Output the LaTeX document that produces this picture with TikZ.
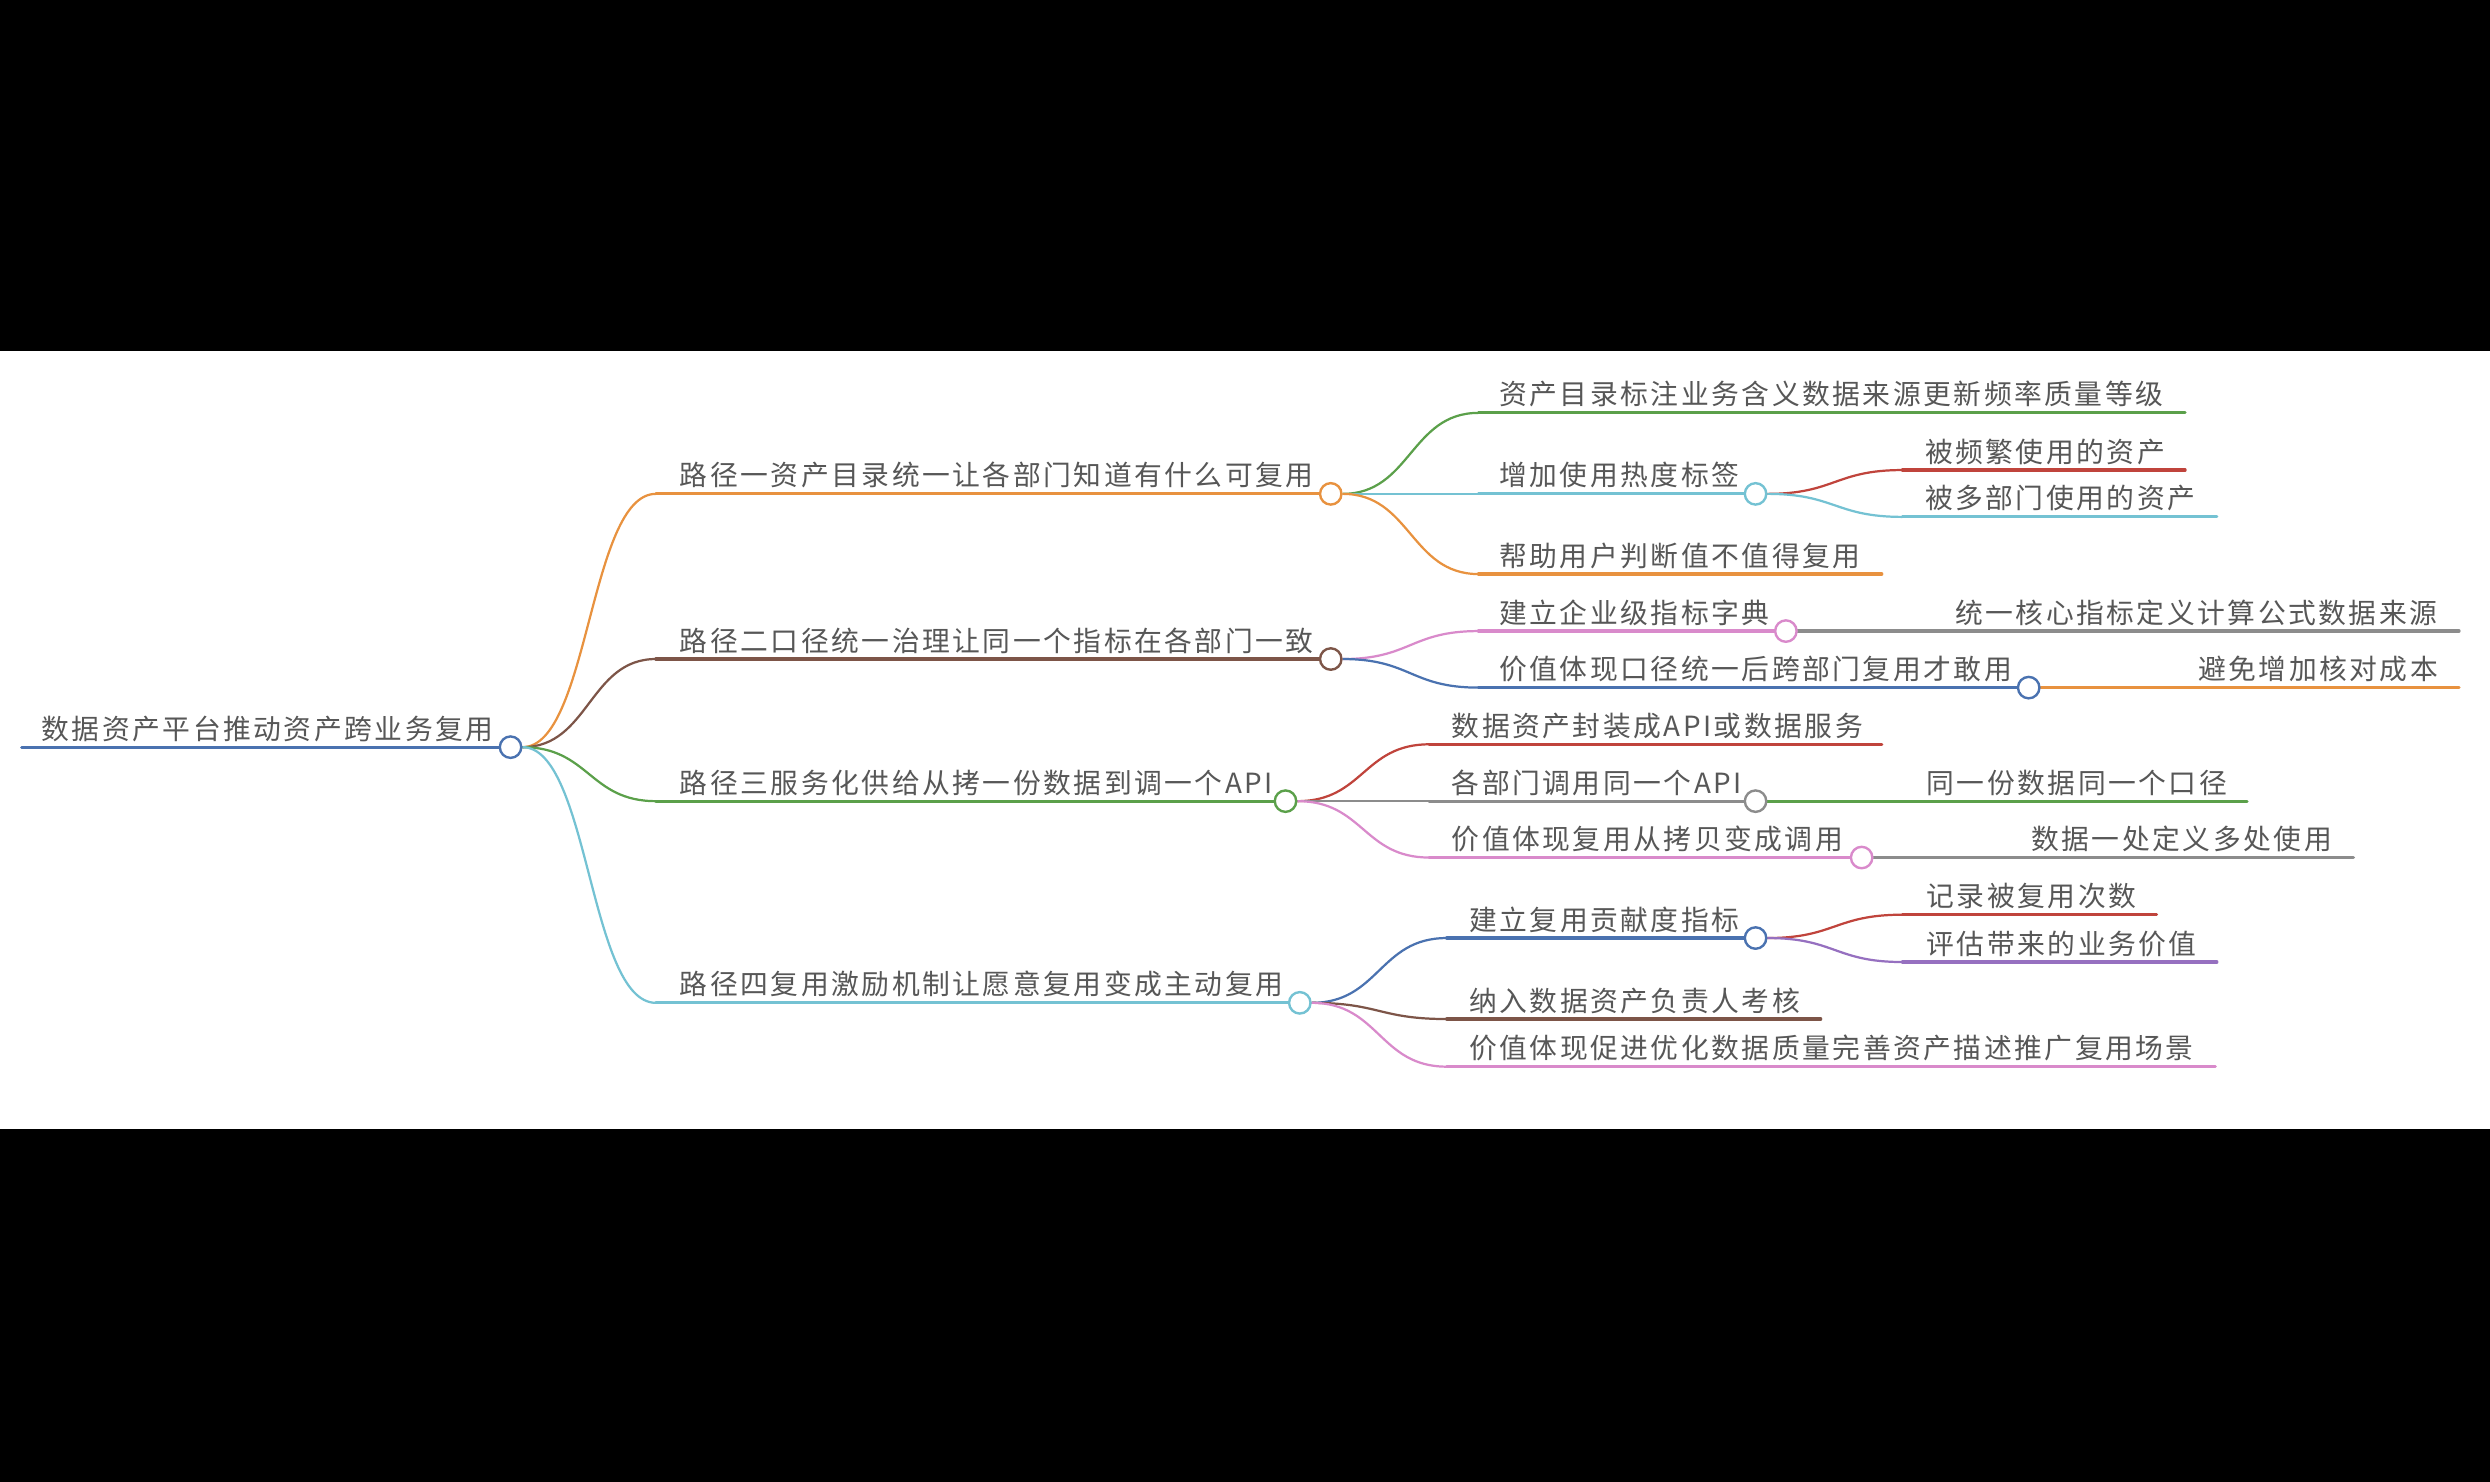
\documentclass[tikz,border=0pt]{standalone}
\usepackage{fontspec}
\newfontfamily\cjk{Noto Sans CJK SC}[LetterSpace=9]
\usetikzlibrary{calc}
\pgfdeclarelayer{back}
\pgfdeclarelayer{bg}
\pgfsetlayers{back,bg,main}
\definecolor{cblue}{HTML}{4A72B0}
\definecolor{corange}{HTML}{E8923F}
\definecolor{cbrown}{HTML}{7D5548}
\definecolor{cgreen}{HTML}{5BA04A}
\definecolor{ccyan}{HTML}{74C2D3}
\definecolor{cred}{HTML}{C0443C}
\definecolor{cpink}{HTML}{D98ACB}
\definecolor{cgray}{HTML}{8C8C8C}
\definecolor{cpurple}{HTML}{9670C0}
\definecolor{ctext}{HTML}{575757}
\newcommand\mmlink[3]{\draw[link=#3] let \p1=(#1),\p2=(#2) in (\p1) .. controls ({0.5*\x1+0.5*\x2},\y1) and ({0.5*\x1+0.5*\x2},\y2) .. (\p2);}
\begin{document}
\begin{tikzpicture}[x=1pt,y=-1pt,
  lbl/.style={anchor=base west, inner sep=0pt, font=\cjk\fontsize{17.5}{19}\selectfont, text=ctext},
  dot/.style={circle, draw=#1, fill=white, line width=1.5pt, minimum size=13.5pt, inner sep=0pt},
  uline/.style={line width=2pt, draw=#1, line cap=round},
  link/.style={line width=1.4pt, draw=#1},
]
\useasboundingbox (0,0) rectangle (1568,933);
\begin{pgfonlayer}{back}
\fill[black] (0,0) rectangle (1568,933);
\fill[white] (0,221) rectangle (1568,711);
\end{pgfonlayer}

% ---------- nodes ----------
% root
\coordinate (R-s) at (13.6,470.5);
\node[dot=cblue] (R) at (321.5,470.5) {};
\node[lbl] (Rt) at (26,465.5) {数据资产平台推动资产跨业务复用};

% level 1
\coordinate (A-s) at (413,311);
\node[dot=corange] (A) at (838,311) {};
\node[lbl] (At) at (428,306) {路径一资产目录统一让各部门知道有什么可复用};

\coordinate (B-s) at (413,415);
\node[dot=cbrown] (B) at (838,415) {};
\node[lbl] (Bt) at (428,410) {路径二口径统一治理让同一个指标在各部门一致};

\coordinate (C-s) at (413,504.5);
\node[dot=cgreen] (C) at (809.5,504.5) {};
\node[lbl] (Ct) at (428,499.5) {路径三服务化供给从拷一份数据到调一个API};

\coordinate (D-s) at (413,631.5);
\node[dot=ccyan] (D) at (818.5,631.5) {};
\node[lbl] (Dt) at (428,626.5) {路径四复用激励机制让愿意复用变成主动复用};

% under A
\coordinate (A1-s) at (931,260);
\coordinate (A1-e) at (1376,260);
\node[lbl] (A1t) at (944,255) {资产目录标注业务含义数据来源更新频率质量等级};

\coordinate (A2-s) at (931,311);
\node[dot=ccyan] (A2) at (1105.5,311) {};
\node[lbl] (A2t) at (944,306) {增加使用热度标签};

\coordinate (A21-s) at (1198,296);
\coordinate (A21-e) at (1376,296);
\node[lbl] (A21t) at (1212,291) {被频繁使用的资产};

\coordinate (A22-s) at (1198,325.5);
\coordinate (A22-e) at (1396,325.5);
\node[lbl] (A22t) at (1212,320.5) {被多部门使用的资产};

\coordinate (A3-s) at (931,361.5);
\coordinate (A3-e) at (1185,361.5);
\node[lbl] (A3t) at (944,356.5) {帮助用户判断值不值得复用};

% under B
\coordinate (B1-s) at (931,397.4);
\node[dot=cpink] (B1) at (1124.6,397.4) {};
\node[lbl] (B1t) at (944,392.4) {建立企业级指标字典};

\coordinate (B11-e) at (1548.5,397.4);
\node[lbl] (B11t) at (1231,392.4) {统一核心指标定义计算公式数据来源};

\coordinate (B2-s) at (931,433);
\node[dot=cblue] (B2) at (1277.5,433) {};
\node[lbl] (B2t) at (944,428) {价值体现口径统一后跨部门复用才敢用};

\coordinate (B21-e) at (1548.5,433);
\node[lbl] (B21t) at (1384,428) {避免增加核对成本};

% under C
\coordinate (C1-s) at (900,468.7);
\coordinate (C1-e) at (1185,468.7);
\node[lbl] (C1t) at (914,463.7) {数据资产封装成API或数据服务};

\coordinate (C2-s) at (900,504.5);
\node[dot=cgray] (C2) at (1105.5,504.5) {};
\node[lbl] (C2t) at (914,499.5) {各部门调用同一个API};

\coordinate (C21-e) at (1415,504.5);
\node[lbl] (C21t) at (1213,499.5) {同一份数据同一个口径};

\coordinate (C3-s) at (900,540);
\node[dot=cpink] (C3) at (1172.3,540) {};
\node[lbl] (C3t) at (914,535) {价值体现复用从拷贝变成调用};

\coordinate (C31-e) at (1482,540);
\node[lbl] (C31t) at (1279,535) {数据一处定义多处使用};

% under D
\coordinate (D1-s) at (911,590.7);
\node[dot=cblue] (D1) at (1105.5,590.7) {};
\node[lbl] (D1t) at (925,585.7) {建立复用贡献度指标};

\coordinate (D11-s) at (1198,576);
\coordinate (D11-e) at (1358,576);
\node[lbl] (D11t) at (1213,571) {记录被复用次数};

\coordinate (D12-s) at (1198,605.8);
\coordinate (D12-e) at (1396,605.8);
\node[lbl] (D12t) at (1213,600.8) {评估带来的业务价值};

\coordinate (D2-s) at (911,641.7);
\coordinate (D2-e) at (1146.5,641.7);
\node[lbl] (D2t) at (925,636.7) {纳入数据资产负责人考核};

\coordinate (D3-s) at (911,671.7);
\coordinate (D3-e) at (1395,671.7);
\node[lbl] (D3t) at (925,666.7) {价值体现促进优化数据质量完善资产描述推广复用场景};

% ---------- connectors (behind circles) ----------
\begin{pgfonlayer}{bg}
\draw[uline=cblue] (R-s) -- (R.center);
\draw[uline=corange] (A-s) -- (A.center);
\draw[uline=cbrown] (B-s) -- (B.center);
\draw[uline=cgreen] (C-s) -- (C.center);
\draw[uline=ccyan] (D-s) -- (D.center);
\mmlink{R.east}{A-s}{corange}
\mmlink{R.east}{B-s}{cbrown}
\mmlink{R.east}{C-s}{cgreen}
\mmlink{R.east}{D-s}{ccyan}

\draw[uline=cgreen] (A1-s) -- (A1-e);
\draw[uline=ccyan] (A2-s) -- (A2.center);
\draw[uline=corange] (A3-s) -- (A3-e);
\mmlink{A.east}{A1-s}{cgreen}
\mmlink{A.east}{A2-s}{ccyan}
\mmlink{A.east}{A3-s}{corange}
\draw[uline=cred] (A21-s) -- (A21-e);
\draw[uline=ccyan] (A22-s) -- (A22-e);
\mmlink{A2.east}{A21-s}{cred}
\mmlink{A2.east}{A22-s}{ccyan}

\draw[uline=cpink] (B1-s) -- (B1.center);
\draw[uline=cblue] (B2-s) -- (B2.center);
\mmlink{B.east}{B1-s}{cpink}
\mmlink{B.east}{B2-s}{cblue}
\draw[uline=cgray] (B1.east) -- (B11-e);
\draw[uline=corange] (B2.east) -- (B21-e);

\draw[uline=cred] (C1-s) -- (C1-e);
\draw[uline=cgray] (C2-s) -- (C2.center);
\draw[uline=cpink] (C3-s) -- (C3.center);
\mmlink{C.east}{C1-s}{cred}
\mmlink{C.east}{C2-s}{cgray}
\mmlink{C.east}{C3-s}{cpink}
\draw[uline=cgreen] (C2.east) -- (C21-e);
\draw[uline=cgray] (C3.east) -- (C31-e);

\draw[uline=cblue] (D1-s) -- (D1.center);
\draw[uline=cbrown] (D2-s) -- (D2-e);
\draw[uline=cpink] (D3-s) -- (D3-e);
\mmlink{D.east}{D1-s}{cblue}
\mmlink{D.east}{D2-s}{cbrown}
\mmlink{D.east}{D3-s}{cpink}
\draw[uline=cred] (D11-s) -- (D11-e);
\draw[uline=cpurple] (D12-s) -- (D12-e);
\mmlink{D1.east}{D11-s}{cred}
\mmlink{D1.east}{D12-s}{cpurple}
\end{pgfonlayer}
\end{tikzpicture}
\end{document}
